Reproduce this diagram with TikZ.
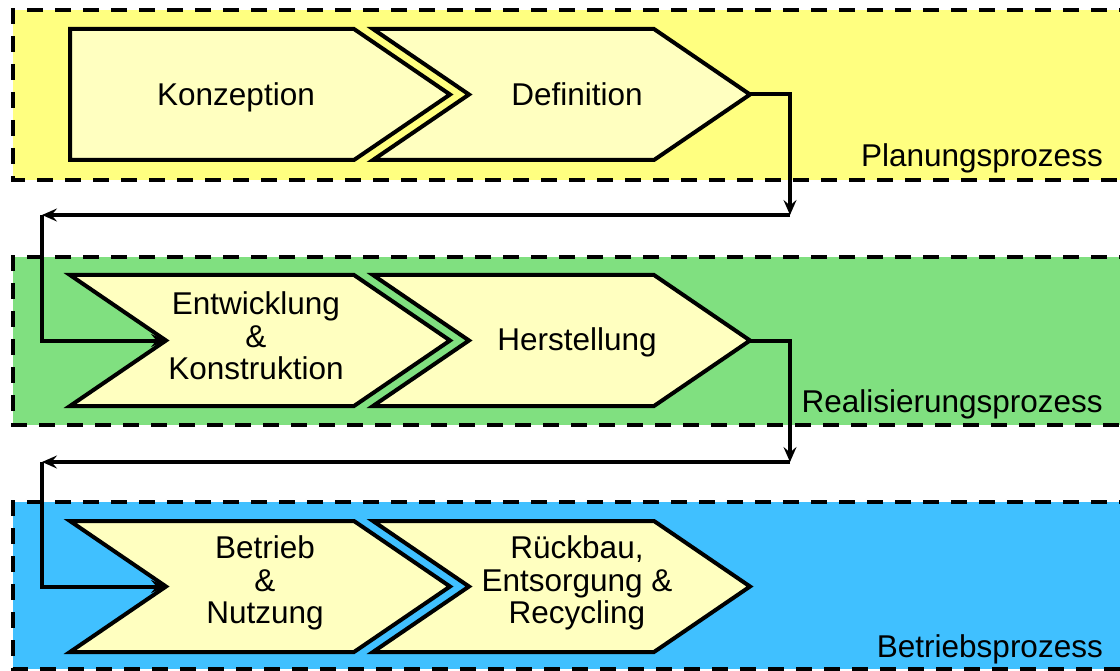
\documentclass[tikz,border=0pt]{standalone}
\usepackage{fontspec}
\setmainfont{Liberation Sans}
\usetikzlibrary{arrows.meta}
\definecolor{bandY}{HTML}{FFFF80}
\definecolor{bandG}{HTML}{80E080}
\definecolor{bandB}{HTML}{40C0FF}
\definecolor{chevfill}{HTML}{FFFFC0}
\begin{document}
\begin{tikzpicture}[x=1pt,y=-1pt,
  bandline/.style={dash pattern=on 16pt off 12pt, line width=3.6pt},
  chev/.style={draw=black, fill=chevfill, line width=4pt, line join=miter},
  lbl/.style={font=\fontsize{31.5}{32.5}\selectfont, align=center, inner sep=0pt},
  plbl/.style={font=\fontsize{31.5}{32.5}\selectfont, inner sep=0pt, anchor=base east},
  flow/.style={line width=4pt, -{Stealth[length=15pt,width=13pt,inset=5.5pt]}}]
\useasboundingbox (0,0) rectangle (1120,671);
\clip (0,0) rectangle (1120,671);
% bands
\fill[bandY] (13,10) rectangle (1135,180);
\draw[bandline] (1135,10) -- (13,10) -- (13,180) -- (1135,180);
\fill[bandG] (13,257) rectangle (1135,425);
\draw[bandline] (1135,257) -- (13,257) -- (13,425) -- (1135,425);
\fill[bandB] (13,502) rectangle (1135,669);
\draw[bandline] (1135,502) -- (13,502) -- (13,669) -- (1135,669);
% row 1
\draw[chev] (70,29) -- (354,29) -- (450,94.5) -- (354,160) -- (70,160) -- cycle;
\draw[chev] (373,29) -- (654,29) -- (750,94.5) -- (654,160) -- (373,160) -- (469,94.5) -- cycle;
\coordinate (c2tip) at (750,94.5);
% row 2
\draw[chev] (70,275) -- (354,275) -- (450,340.5) -- (354,406) -- (70,406) -- (166,340.5) -- cycle;
\coordinate (c3notch) at (166,340.5);
\draw[chev] (373,275) -- (654,275) -- (750,340.5) -- (654,406) -- (373,406) -- (469,340.5) -- cycle;
\coordinate (c4tip) at (750,340.5);
% row 3
\draw[chev] (70,521) -- (354,521) -- (450,586.5) -- (354,652) -- (70,652) -- (166,586.5) -- cycle;
\coordinate (c5notch) at (166,586.5);
\draw[chev] (373,521) -- (654,521) -- (750,586.5) -- (654,652) -- (373,652) -- (469,586.5) -- cycle;
% texts
\node[lbl, anchor=base] (konz) at (236,106) {Konzeption};
\node[lbl, anchor=base] (defi) at (577,106) {Definition};
\node[lbl] (entw) at (256,336) {Entwicklung\\\&\\Konstruktion};
\node[lbl, anchor=base] (hers) at (577,351) {Herstellung};
\node[lbl] (betr) at (265,583) {Betrieb\\\&\\Nutzung};
\node[lbl] (rueck) at (577,583) {Rückbau,\\Entsorgung \&\\Recycling};
\node[plbl] (plan) at (1103,167) {Planungsprozess};
\node[plbl] (real) at (1103,412) {Realisierungsprozess};
\node[plbl] (betp) at (1103,657) {Betriebsprozess};
% connectors
\coordinate (r1) at (790,215);
\coordinate (l1) at (42,215);
\coordinate (r2) at (790,462);
\coordinate (l2) at (42,462);
\draw[flow] (c2tip) -| (r1);
\draw[flow] (r1) -- (l1);
\draw[flow] (l1) |- (c3notch);
\draw[flow] (c4tip) -| (r2);
\draw[flow] (r2) -- (l2);
\draw[flow] (l2) |- (c5notch);
\end{tikzpicture}
\end{document}
